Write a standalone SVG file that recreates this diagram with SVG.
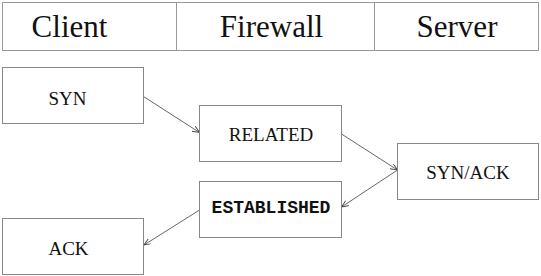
<svg xmlns="http://www.w3.org/2000/svg" width="541" height="276" viewBox="0 0 541 276">
<defs>
<style>
.hdr{fill:#fff;stroke:#999;stroke-width:1}
.box{fill:#fff;stroke:#888;stroke-width:1}
.ht{font-family:"Liberation Serif",serif;font-size:31px;fill:#111;text-anchor:middle}
.nt{font-family:"Liberation Serif",serif;font-size:19px;fill:#111;text-anchor:middle}
.mt{font-family:"Liberation Mono",monospace;font-size:18px;font-weight:bold;fill:#111;text-anchor:middle}
.cn{stroke:#555;stroke-width:0.9;fill:none;marker-end:url(#arr)}
</style>
<marker id="arr" markerWidth="8" markerHeight="8" refX="7" refY="3" orient="auto" markerUnits="userSpaceOnUse">
<path d="M0,0 L7,3 L0,6" fill="none" stroke="#444" stroke-width="0.9"/>
</marker>
</defs>
<rect width="541" height="276" fill="#fff"/>
<g id="header">
<rect class="hdr" x="2.5" y="2.5" width="536" height="48"/>
<line x1="176.5" y1="2.5" x2="176.5" y2="50.5" stroke="#999"/>
<line x1="374.5" y1="2.5" x2="374.5" y2="50.5" stroke="#999"/>
<text class="ht" x="69.5" y="37">Client</text>
<text class="ht" x="271.5" y="37">Firewall</text>
<text class="ht" x="457" y="37">Server</text>
</g>
<g id="connectors">
<line class="cn" x1="143.5" y1="96.5" x2="199.5" y2="132.5"/>
<line class="cn" x1="341.5" y1="134" x2="397.5" y2="170"/>
<line class="cn" x1="397.5" y1="170" x2="341.5" y2="207"/>
<line class="cn" x1="199.5" y1="210" x2="144" y2="245"/>
</g>
<g id="syn">
<rect class="box" x="2.5" y="67.5" width="141" height="56"/>
<text class="nt" x="67.5" y="105">SYN</text>
</g>
<g id="related">
<rect class="box" x="199.5" y="105.5" width="142" height="56"/>
<text class="nt" x="271" y="141">RELATED</text>
</g>
<g id="synack">
<rect class="box" x="397.5" y="143.5" width="141" height="56"/>
<text class="nt" x="468" y="179">SYN/ACK</text>
</g>
<g id="established">
<rect class="box" x="199.5" y="181.5" width="142" height="56"/>
<text class="mt" x="271" y="213">ESTABLISHED</text>
</g>
<g id="ack">
<rect class="box" x="2.5" y="218.5" width="141" height="56"/>
<text class="nt" x="68.5" y="255">ACK</text>
</g>
</svg>
